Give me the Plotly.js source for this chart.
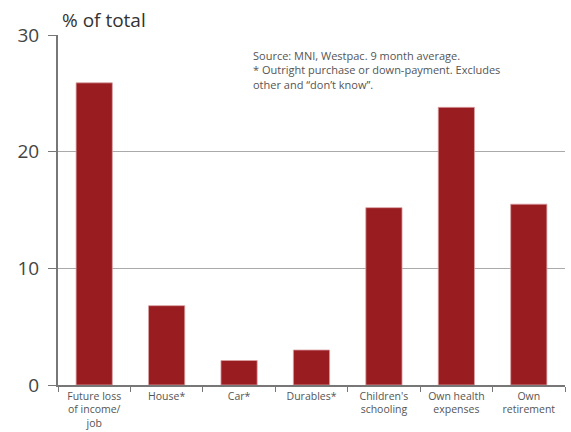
<!DOCTYPE html>
<html>
<head>
<meta charset="utf-8">
<script src="https://cdn.plot.ly/plotly-3.0.1.min.js"></script>
<style>html,body{margin:0;padding:0;background:#fff;}#chart{width:571px;height:432px;}</style>
</head>
<body>
<div id="chart"></div>
<script>
const categories = ["Future loss<br>of income/<br>job", "House*", "Car*", "Durables*", "Children's<br>schooling", "Own health<br>expenses", "Own<br>retirement"];
const values = [25.9, 6.8, 2.1, 3.0, 15.2, 23.8, 15.5];
const yTicks = [0, 10, 20, 30];

const trace = {
  type: 'bar',
  x: categories,
  y: values,
  marker: {color: '#991c20', line: {color: '#d9a0a2', width: 0.8}},
  hoverinfo: 'skip'
};

const layout = {
  width: 571, height: 432,
  margin: {l: 58, r: 6, t: 35, b: 47},
  paper_bgcolor: '#fff', plot_bgcolor: '#fff',
  font: {family: 'Open Sans, sans-serif', color: '#555'},
  showlegend: false,
  bargap: 0.5,
  xaxis: {
    type: 'category',
    showline: true, linecolor: '#777', linewidth: 2,
    ticks: 'outside', tickson: 'boundaries', ticklen: 5, tickcolor: '#777', tickwidth: 1,
    tickfont: {size: 10.5, color: '#555'},
    ticklabelstandoff: 0,
    showgrid: false, automargin: false, fixedrange: true
  },
  yaxis: {
    range: [0, 30], tickvals: yTicks, ticktext: yTicks.map(String),
    showline: true, linecolor: '#777', linewidth: 2,
    ticks: 'outside', ticklen: 8, tickcolor: '#777', tickwidth: 1,
    tickfont: {size: 19, color: '#444'},
    ticklabelstandoff: 5,
    showgrid: true, gridcolor: '#aaa', gridwidth: 1,
    zeroline: false, automargin: false, fixedrange: true
  },
  annotations: [
    {xref: 'paper', yref: 'paper', x: 0.0, y: 1.0, xanchor: 'left', yanchor: 'bottom', yshift: 0, xshift: 2,
     text: '% of total', showarrow: false, font: {size: 19, color: '#333'}},
    {xref: 'paper', yref: 'paper', x: 0.38, y: 0.968, xanchor: 'left', yanchor: 'top', align: 'left',
     text: 'Source: MNI, Westpac. 9 month average.<br>* Outright purchase or down-payment. Excludes<br>other and \u201cdon\u2019t know\u201d.',
     showarrow: false, font: {size: 11, color: '#555'}}
  ]
};

Plotly.newPlot('chart', [trace], layout, {displayModeBar: false, staticPlot: true});
</script>
</body>
</html>
